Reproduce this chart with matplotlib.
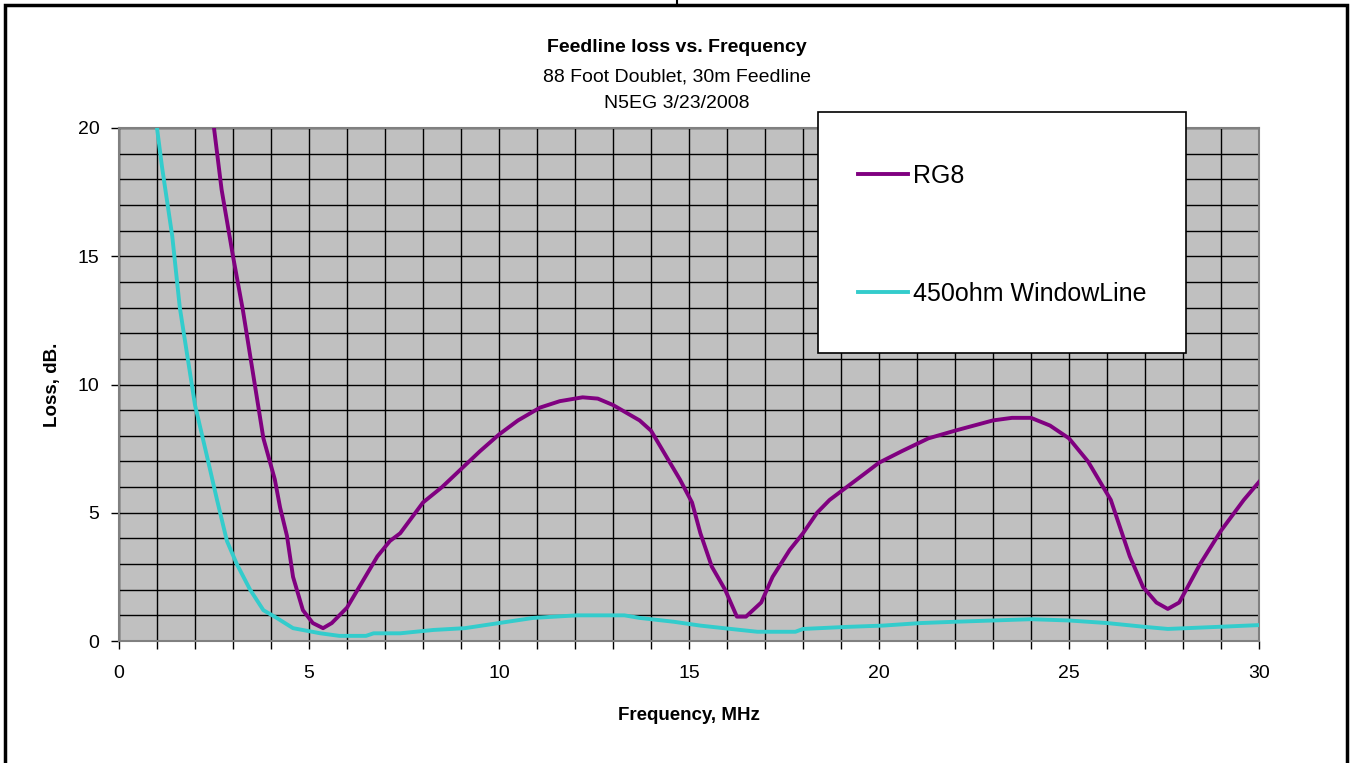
import numpy as np
import matplotlib
matplotlib.use('Agg')
import matplotlib.pyplot as plt
from matplotlib.patches import Rectangle
from matplotlib.lines import Line2D
from matplotlib.ticker import MultipleLocator

plt.rcParams['font.family'] = ['Liberation Sans', 'DejaVu Sans']

# data
rg8_f = [2.5, 2.7, 3.0, 3.26, 3.8, 4.1, 4.24, 4.42, 4.58, 4.84, 5.1, 5.37, 5.6, 6.0,
         6.4, 6.8, 7.13, 7.4, 8.0, 8.5, 9.0, 9.5, 10.0, 10.5, 11.08, 11.6, 12.2, 12.6,
         13.0, 13.7, 14.0, 14.5, 14.76, 15.08, 15.3, 15.6, 15.95, 16.26, 16.5, 16.9,
         17.2, 17.65, 18.0, 18.37, 18.7, 19.15, 19.6, 20.0, 20.6, 21.3, 22.0, 23.0,
         23.5, 24.0, 24.5, 25.0, 25.5, 26.1, 26.6, 26.95, 27.3, 27.6, 27.9, 28.45,
         29.0, 29.6, 30.0]
rg8_loss = [20.0, 17.6, 15.0, 12.9, 7.9, 6.3, 5.2, 4.1, 2.5, 1.2, 0.7, 0.5, 0.7, 1.3,
            2.3, 3.3, 3.9, 4.2, 5.4, 6.0, 6.7, 7.4, 8.05, 8.6, 9.1, 9.35, 9.5, 9.45,
            9.2, 8.6, 8.2, 6.95, 6.3, 5.4, 4.2, 2.9, 2.0, 0.95, 0.95, 1.5,
            2.5, 3.55, 4.2, 5.0, 5.5, 6.0, 6.5, 6.95, 7.4, 7.9, 8.2, 8.6,
            8.7, 8.7, 8.4, 7.9, 7.0, 5.5, 3.3, 2.1, 1.5, 1.25, 1.5, 3.0,
            4.3, 5.5, 6.2]

win_f = [1.0, 1.13, 1.4, 1.6, 2.0, 2.3, 2.58, 2.84, 3.1, 3.45, 3.8, 4.15, 4.58, 5.3,
         5.8, 6.5, 6.7, 7.4, 8.27, 9.1, 10.0, 10.9, 12.05, 13.3, 13.7, 14.6, 15.3,
         16.1, 16.8, 17.8, 18.0, 19.15, 20.1, 21.1, 22.0, 23.0, 24.0, 25.0, 26.0,
         27.0, 27.6, 28.9, 30.0]
win_loss = [20.0, 18.5, 15.8, 13.0, 9.2, 7.3, 5.5, 3.9, 3.0, 2.0, 1.2, 0.9, 0.5, 0.3,
            0.2, 0.2, 0.3, 0.3, 0.43, 0.5, 0.7, 0.9, 1.0, 1.0, 0.9, 0.75, 0.6,
            0.47, 0.36, 0.36, 0.47, 0.55, 0.6, 0.7, 0.75, 0.8, 0.85, 0.8, 0.7,
            0.55, 0.47, 0.55, 0.62]

W, H = 1350, 763
fig = plt.figure(figsize=(13.5, 7.63), dpi=100)
ax = fig.add_axes([119/W, 1-641/H, (1259-119)/W, (641-128)/H])
ax.set_facecolor('#C0C0C0')

ax.plot(rg8_f, rg8_loss, color='#800080', lw=2.8, label='RG8', zorder=3)
ax.plot(win_f, win_loss, color='#33CCCC', lw=2.8, label='450ohm WindowLine', zorder=3)

ax.set_xlim(0, 30)
ax.set_ylim(0, 20)
ax.xaxis.set_major_locator(MultipleLocator(5))
ax.xaxis.set_minor_locator(MultipleLocator(1))
ax.yaxis.set_major_locator(MultipleLocator(5))
ax.yaxis.set_minor_locator(MultipleLocator(1))
ax.grid(which='both', color='black', lw=1.0)
ax.set_axisbelow(True)
ax.tick_params(which='major', direction='out', length=6, width=1, colors='black',
               labelsize=14, pad=11)
ax.tick_params(axis='y', which='major', pad=8)
ax.tick_params(axis='x', which='minor', direction='out', length=6, width=1)
ax.tick_params(axis='y', which='minor', length=0)
for s in ax.spines.values():
    s.set_color('#808080')
    s.set_linewidth(1.5)

ax.set_xlabel('Frequency, MHz', fontsize=13.5, fontweight='bold', labelpad=18)
ax.set_ylabel('Loss, dB.', fontsize=13.5, fontweight='bold', labelpad=12)

fig.text(677/W, 1-48/H, 'Feedline loss vs. Frequency', ha='center', va='center',
         fontsize=14, fontweight='bold')
fig.text(677/W, 1-77/H, '88 Foot Doublet, 30m Feedline', ha='center', va='center',
         fontsize=14)
fig.text(677/W, 1-104/H, 'N5EG 3/23/2008', ha='center', va='center', fontsize=14)

# outer chart border
fig.add_artist(Rectangle((5/W, -0.05), (1347-5)/W, 1.05-5/H, transform=fig.transFigure,
                         fill=False, edgecolor='black', lw=2.5, zorder=1))
fig.add_artist(Line2D([677/W, 677/W], [1-5/H, 1], transform=fig.transFigure,
                      color='black', lw=1.5))

# legend box
fig.add_artist(Rectangle((818/W, 1-353/H), 368/W, 241/H, transform=fig.transFigure,
                         facecolor='white', edgecolor='black', lw=1.2, zorder=3))
leg = fig.legend(loc='upper left', bbox_to_anchor=(858/W, 1-164/H), frameon=False,
                 fontsize=18, handlelength=2.0, handletextpad=0.2, labelspacing=3.75,
                 borderpad=0, borderaxespad=0)
leg.set_zorder(5)

fig.savefig('out.png', dpi=100)
